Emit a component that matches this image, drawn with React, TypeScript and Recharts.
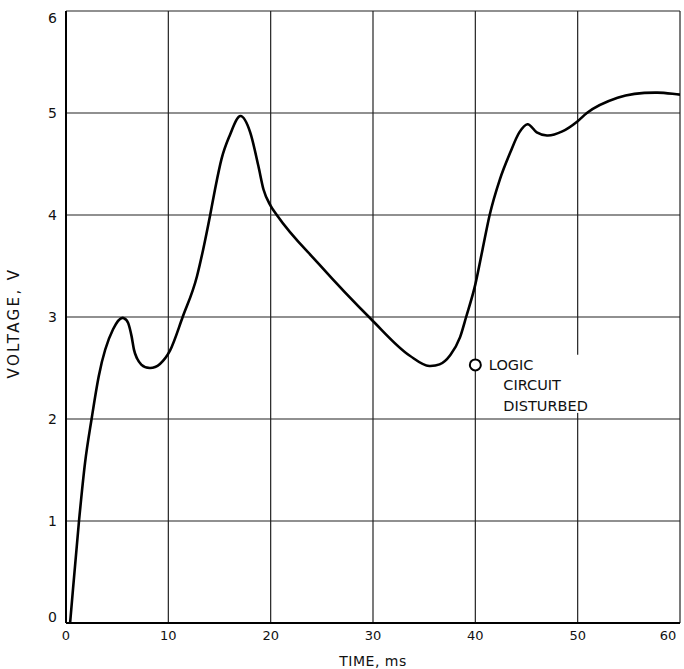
import React from 'react';
import {
  LineChart,
  Line,
  XAxis,
  YAxis,
  CartesianGrid,
  ReferenceDot,
  ReferenceArea,
  Label,
} from 'recharts';

// Supply voltage trace during the transient
const timeMs = [
  0.4, 1.27, 1.86, 2.5, 3.2, 4.6, 5.6, 6.08, 6.41, 6.64, 6.96, 7.39, 8.2, 9.18, 10.16, 11.4, 12.8, 13.4,
  14.07, 14.56, 15.2, 16.0, 17.06, 18.0, 18.8, 19.3, 20, 20.6, 24.7, 29.8, 33.6, 35.5, 37.5, 38.5, 39.1, 40,
  40.7, 41.4, 42.4, 43.4, 44.3, 45.1, 46, 47, 48.5, 50, 50.9, 53.9, 57.8, 60,
];
const voltage = [
  0, 1, 1.57, 2, 2.42, 2.88, 2.99, 2.94, 2.81, 2.68, 2.59, 2.53, 2.5, 2.54, 2.67, 3.0, 3.4, 3.66,
  3.99, 4.25, 4.55, 4.78, 4.97, 4.81, 4.48, 4.25, 4.09, 4.0, 3.52, 2.98, 2.62, 2.52, 2.62, 2.8, 3.0, 3.32,
  3.66, 4.0, 4.35, 4.61, 4.81, 4.89, 4.81, 4.78, 4.82, 4.92, 5.0, 5.15, 5.2, 5.18,
];

const xTicks = [0, 10, 20, 30, 40, 50, 60];
const yTicks = [0, 1, 2, 3, 4, 5, 6];

// Point where the logic circuit was disturbed
const eventTime = [40];
const eventVoltage = [2.53];
const eventLines = ['LOGIC', 'CIRCUIT', 'DISTURBED'];

const data = timeMs.map((t, i) => ({ t, v: voltage[i] }));

const FONT = '"DejaVu Sans", sans-serif';
const INK = '#111';

// Smooth cubic Hermite curve through every point, with three-point
// (parabolic) tangents so the trace bends without corners.
const smoothCurve = (context: any) => {
  let pts: number[][] = [];
  return {
    areaStart() {},
    areaEnd() {},
    lineStart() {
      pts = [];
    },
    point(x: number, y: number) {
      pts.push([+x, +y]);
    },
    lineEnd() {
      const n = pts.length;
      if (!n) return;
      context.moveTo(pts[0][0], pts[0][1]);
      if (n === 1) return;
      const h: number[] = [];
      const d: number[] = [];
      for (let i = 0; i < n - 1; i++) {
        h.push(pts[i + 1][0] - pts[i][0]);
        d.push((pts[i + 1][1] - pts[i][1]) / (pts[i + 1][0] - pts[i][0]));
      }
      const m: number[] = new Array(n);
      m[0] = d[0];
      m[n - 1] = d[n - 2];
      for (let i = 1; i < n - 1; i++) {
        m[i] = (h[i - 1] * d[i] + h[i] * d[i - 1]) / (h[i - 1] + h[i]);
      }
      for (let i = 0; i < n - 1; i++) {
        const [x0, y0] = pts[i];
        const [x1, y1] = pts[i + 1];
        const dx = (x1 - x0) / 3;
        context.bezierCurveTo(x0 + dx, y0 + m[i] * dx, x1 - dx, y1 - m[i + 1] * dx, x1, y1);
      }
    },
  };
};

const XTick = (props: any) => {
  const { x, y, payload } = props;
  // keep the last label inside the frame
  const shift = payload.value === xTicks[xTicks.length - 1] ? -8 : 0;
  return (
    <text x={x + shift} y={y} dy="0.71em" textAnchor="middle" fontFamily={FONT} fontSize={13} fill={INK}>
      {payload.value}
    </text>
  );
};

const YTick = (props: any) => {
  const { x, y, payload } = props;
  let shift = 0;
  if (payload.value === yTicks[0]) shift = -6;
  if (payload.value === yTicks[yTicks.length - 1]) shift = 7;
  return (
    <text x={x} y={y + shift} dy="0.355em" textAnchor="end" fontFamily={FONT} fontSize={14} fill={INK}>
      {payload.value}
    </text>
  );
};

const EventLabel = (props: any) => {
  const { cx, cy } = props;
  const common = { fontFamily: FONT, fontSize: 14.5, fill: INK };
  return (
    <g>
      <circle cx={cx} cy={cy} r={5.5} fill="#fff" stroke="#000" strokeWidth={2} />
      <text x={cx + 13.5} y={cy + 5} {...common}>
        {eventLines[0]}
      </text>
      <text x={cx + 28} y={cy + 25.5} {...common}>
        {eventLines[1]}
      </text>
      <text x={cx + 28} y={cy + 46} {...common}>
        {eventLines[2]}
      </text>
    </g>
  );
};

export default function App() {
  return (
    <div style={{ position: 'absolute', left: 0, top: 0, background: '#fff' }}>
      <LineChart
        width={684}
        height={669}
        data={data}
        margin={{ top: 11, right: 4, bottom: 0, left: 0 }}
      >
        <CartesianGrid stroke="#222" strokeWidth={1.2} />
        {/* break in the 50 ms gridline behind the annotation */}
        <ReferenceArea
          x1={49.5}
          x2={50.5}
          y1={2.06}
          y2={2.63}
          fill="#fff"
          fillOpacity={1}
          stroke="none"
          ifOverflow="visible"
        />
        <XAxis
          dataKey="t"
          type="number"
          domain={[0, 60]}
          ticks={xTicks}
          height={46}
          tickLine={false}
          axisLine={{ stroke: '#000', strokeWidth: 2 }}
          tick={<XTick />}
          tickMargin={2}
          allowDataOverflow
        >
          <Label
            value="TIME, ms"
            position="insideBottom"
            offset={3}
            style={{ fill: INK, fontSize: 14, fontFamily: FONT, letterSpacing: 0.5 }}
          />
        </XAxis>
        <YAxis
          type="number"
          domain={[0, 6]}
          ticks={yTicks}
          width={66}
          tickLine={false}
          axisLine={{ stroke: '#000', strokeWidth: 2 }}
          tick={<YTick />}
          tickMargin={3}
        >
          <Label
            value="VOLTAGE, V"
            angle={-90}
            position="insideLeft"
            offset={14}
            dy={6}
            style={{ textAnchor: 'middle', fill: INK, fontSize: 15, fontFamily: FONT, letterSpacing: 2.4 }}
          />
        </YAxis>
        <Line
          type={smoothCurve as any}
          dataKey="v"
          stroke="#000"
          strokeWidth={2.6}
          dot={false}
          isAnimationActive={false}
        />
        <ReferenceDot
          x={eventTime[0]}
          y={eventVoltage[0]}
          r={5}
          shape={EventLabel}
          ifOverflow="visible"
        />
      </LineChart>
    </div>
  );
}
